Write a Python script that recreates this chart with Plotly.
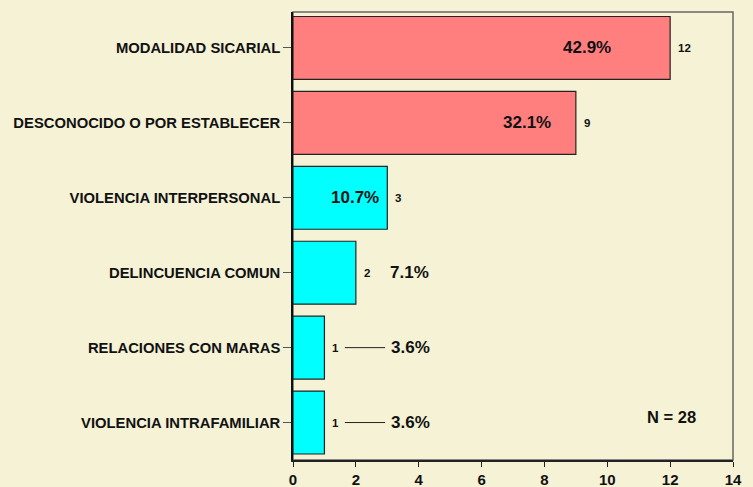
import plotly.graph_objects as go

categories = ["MODALIDAD SICARIAL", "DESCONOCIDO O POR ESTABLECER", "VIOLENCIA INTERPERSONAL",
              "DELINCUENCIA COMUN", "RELACIONES CON MARAS", "VIOLENCIA INTRAFAMILIAR"]
counts = [12, 9, 3, 2, 1, 1]
total = 28
tick_vals = [0, 2, 4, 6, 8, 10, 12, 14]

# styles
bar_colors = ["#FF7F7F", "#FF7F7F", "#00FFFF", "#00FFFF", "#00FFFF", "#00FFFF"]
pct_label_x = [9.35, 7.45, 1.97, 3.72, 3.75, 3.75]
leader = [False, False, False, False, True, True]
BG = "#F5F2D5"
FONT = "Liberation Sans, Arial, sans-serif"

fig = go.Figure()
fig.add_trace(go.Bar(
    y=categories, x=counts, orientation="h",
    marker=dict(color=bar_colors, line=dict(color="#222222", width=1.2)),
    width=0.84, showlegend=False, hoverinfo="skip",
))

annotations = []
shapes = []
for cat, v, px, ld in zip(categories, counts, pct_label_x, leader):
    annotations.append(dict(x=v, y=cat, xref="x", yref="y", text="<b>%d</b>" % v,
                            showarrow=False, xanchor="left", xshift=6,
                            font=dict(size=11.5, color="#111111", family=FONT)))
    annotations.append(dict(x=px, y=cat, xref="x", yref="y",
                            text="<b>%.1f%%</b>" % (100.0 * v / total),
                            showarrow=False, xanchor="center",
                            font=dict(size=17, color="#111111", family=FONT)))
    if ld:
        shapes.append(dict(type="line", xref="x", yref="y", x0=v + 0.65, x1=v + 1.93,
                           y0=cat, y1=cat, line=dict(color="#222222", width=1)))

annotations.append(dict(x=0.86, y=0.095, xref="paper", yref="paper", text="<b>N = 28</b>",
                        showarrow=False, xanchor="center", yanchor="middle",
                        font=dict(size=16.5, color="#111111", family=FONT)))

shapes.append(dict(type="rect", xref="paper", yref="paper", x0=0, x1=1, y0=0, y1=1,
                   line=dict(color="#666666", width=1.5), layer="below"))

fig.update_layout(
    width=753, height=487,
    paper_bgcolor=BG, plot_bgcolor=BG,
    margin=dict(l=293, r=20, t=12, b=27),
    font=dict(family=FONT, color="#111111"),
    annotations=annotations, shapes=shapes,
)
fig.update_xaxes(range=[0, 14], tickvals=tick_vals,
                 ticktext=["<b>%d</b>" % t for t in tick_vals],
                 ticks="outside", ticklen=5, automargin=False,
                 tickcolor="#222222", showline=True, linecolor="#222222", linewidth=1.5,
                 showgrid=False, zeroline=False,
                 tickfont=dict(size=15, family=FONT, color="#111111"),
                 ticklabelstandoff=0)
fig.update_yaxes(categoryorder="array", categoryarray=categories[::-1],
                 range=[-0.5, 5.48], automargin=False,
                 ticks="outside", ticklen=8, tickcolor="#555555",
                 showline=True, linecolor="#111111", linewidth=1.5, showgrid=False,
                 tickfont=dict(size=14.8, family=FONT, color="#111111"),
                 ticklabelstandoff=0)
fig.update_yaxes(ticktext=["<b>%s</b>" % c for c in categories], tickvals=categories)

fig.write_html("out.html", config={"displayModeBar": False},
               post_script="document.body.style.margin='0';document.body.style.background='%s';" % BG)
